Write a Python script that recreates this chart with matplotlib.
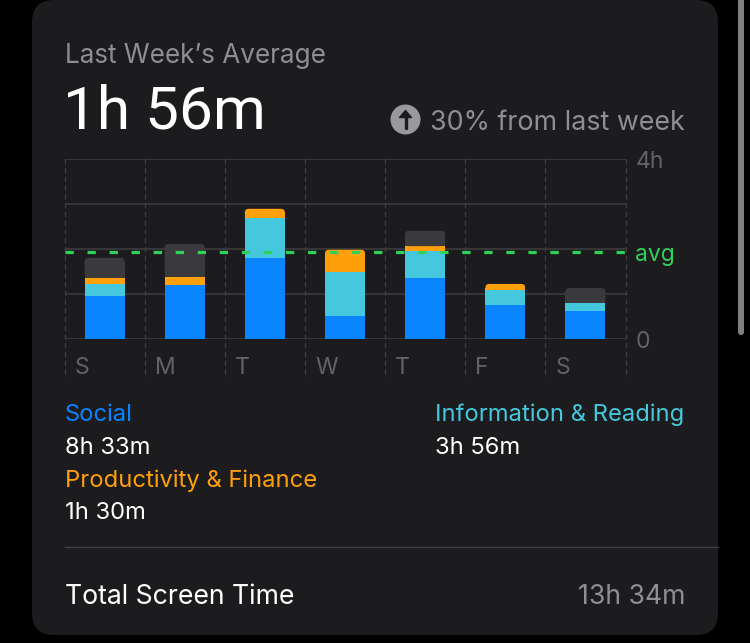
import matplotlib
matplotlib.use("Agg")
import matplotlib.pyplot as plt
from matplotlib.patches import FancyBboxPatch, Circle, Polygon
import numpy as np

plt.rcParams['font.family'] = ['Inter', 'DejaVu Sans']

# ---- data (hours) ----
days = ["S", "M", "T", "W", "T", "F", "S"]
social = [0.97, 1.21, 1.81, 0.52, 1.37, 0.77, 0.64]
info_reading = [0.26, 0.00, 0.89, 0.98, 0.59, 0.33, 0.17]
productivity = [0.14, 0.18, 0.20, 0.49, 0.11, 0.13, 0.00]
other = [0.44, 0.73, 0.00, 0.00, 0.34, 0.00, 0.33]
avg_hours = 116 / 60
y_ticks = [0, 4]
y_tick_labels = ["0", "4h"]

legend_names = ["Social", "Information & Reading", "Productivity & Finance"]
legend_values = ["8h 33m", "3h 56m", "1h 30m"]
title_text = "Last Week\u2019s Average"
headline = "1h 56m"
change_text = "30% from last week"
total_label = "Total Screen Time"
total_value = "13h 34m"

# ---- colors ----
C_BLUE = "#0A84FF"
C_CYAN = "#45C8DE"
C_ORANGE = "#FF9F0A"
C_OTHER = "#3A3A3C"
C_CARD = "#1C1C1E"
C_GRID = "#3F3F42"
C_GREEN = "#30D158"
C_GRAY = "#8E8E93"
C_AXLBL = "#636366"

W, H = 750, 643
fig = plt.figure(figsize=(7.5, 6.43), dpi=100)
fig.patch.set_facecolor("black")

# background axes in pixel coordinates
bg = fig.add_axes([0, 0, 1, 1])
bg.set_xlim(0, W)
bg.set_ylim(H, 0)
bg.axis("off")

card = FancyBboxPatch((32, 0), 686, 635, boxstyle="round,pad=0,rounding_size=22",
                      fc=C_CARD, ec="none")
bg.add_patch(card)
# scrollbar
bg.add_patch(FancyBboxPatch((738, -10), 6, 345, boxstyle="round,pad=0,rounding_size=3",
                            fc="#808080", ec="none"))

# header texts
bg.text(65, 63.3, title_text, color=C_GRAY, fontsize=18.8, va="baseline", ha="left")
bg.text(63, 128.5, headline, color="white", fontsize=43.5, va="baseline", ha="left",
        family=["Roboto", "DejaVu Sans"])
bg.add_patch(Circle((405.5, 119.5), 15, fc="#98989D", ec="none"))
bg.plot([405.5, 405.5], [128, 114], color=C_CARD, lw=2.4, solid_capstyle="round")
bg.add_patch(Polygon([[399.5, 117.5], [405.5, 110.5], [411.5, 117.5]], closed=True,
                     fc=C_CARD, ec=C_CARD, lw=1, joinstyle="round"))
bg.text(685, 130.5, change_text, color=C_GRAY, fontsize=19.3, va="baseline", ha="right")

# legend
fs_leg = 17.1
bg.text(65, 420.7, legend_names[0], color=C_BLUE, fontsize=fs_leg, va="baseline")
bg.text(65, 454, legend_values[0], color="white", fontsize=fs_leg, va="baseline")
bg.text(435, 420.7, legend_names[1], color=C_CYAN, fontsize=fs_leg, va="baseline")
bg.text(435, 454, legend_values[1], color="white", fontsize=fs_leg, va="baseline")
bg.text(65, 486.7, legend_names[2], color=C_ORANGE, fontsize=fs_leg, va="baseline")
bg.text(65, 519, legend_values[2], color="white", fontsize=fs_leg, va="baseline")

# separator + total
bg.plot([65, 718], [547, 547], color=C_GRID, lw=1)
bg.text(65, 603.5, total_label, color="white", fontsize=19.2, va="baseline")
bg.text(685, 603.5, total_value, color=C_GRAY, fontsize=19.2, va="baseline", ha="right")

# ---- chart axes ----
x0, x1 = 64.5, 625.5
y_top, y_bot = 159.3, 339.3
ax = fig.add_axes([x0 / W, (H - y_bot) / H, (x1 - x0) / W, (y_bot - y_top) / H])
ax.set_xlim(0, 7)
ax.set_ylim(0, 4)
ax.axis("off")
ax.patch.set_alpha(0)

px_per_h = (y_bot - y_top) / 4
px_per_x = (x1 - x0) / 7

# horizontal gridlines
for yv in [0, 1, 2, 3, 4]:
    ax.plot([0, 7], [yv, yv], color=C_GRID, lw=1.1, zorder=1)

# vertical dashed lines extending below
y_low = -(378 - y_bot) / px_per_h
for xv in range(8):
    ax.plot([xv, xv], [4, y_low], color=C_GRID, lw=0.9, ls=(0, (4, 3)),
            clip_on=False, zorder=1)

# stacked bars with rounded top
xs = np.arange(len(days)) + 0.5
bw = 0.5
r_px = 4.0
rx = r_px / px_per_x
ry = r_px / px_per_h
stacks = [(social, C_BLUE), (info_reading, C_CYAN), (productivity, C_ORANGE), (other, C_OTHER)]
arr = [np.array(v, dtype=float) for v, _ in stacks]
total = np.sum(arr, axis=0)
bottom = np.zeros(len(days))
for (vals, col), v in zip(stacks, arr):
    for i in range(len(days)):
        if v[i] <= 0:
            continue
        top = bottom[i] + v[i]
        is_top = np.isclose(top, total[i])
        if is_top:
            h_plain = max(v[i] - ry, 0)
            if h_plain > 0:
                ax.bar(xs[i], h_plain, bw, bottom=bottom[i], color=col, zorder=2, linewidth=0)
            box = FancyBboxPatch((xs[i] - bw / 2, bottom[i]), bw, v[i],
                                 boxstyle=f"round,pad=0,rounding_size={rx}",
                                 mutation_aspect=ry / rx, fc=col, ec="none", zorder=2)
            ax.add_patch(box)
        else:
            ax.bar(xs[i], v[i], bw, bottom=bottom[i], color=col, zorder=2, linewidth=0)
    bottom = bottom + v

# avg line
ax.plot([0, 7], [avg_hours, avg_hours], color=C_GREEN, lw=2.3, ls=(0, (2.6, 4.3)),
        zorder=4, solid_capstyle="butt", dash_capstyle="butt")

# y labels
lbl_x = 7 + 10 / px_per_x
for t, lbl in zip(y_ticks, y_tick_labels):
    off = (348.3 - y_bot) if t == 0 else (168.3 - y_top)
    ax.text(lbl_x, t - off / px_per_h, lbl, color=C_AXLBL, fontsize=16.5,
            va="baseline", ha="left", clip_on=False)
ax.text(lbl_x, avg_hours - (260.7 - (y_bot - avg_hours * px_per_h)) / px_per_h, "avg",
        color=C_GREEN, fontsize=16.5, va="baseline", ha="left", clip_on=False)

# day labels
for i, d in enumerate(days):
    ax.text(i + 10 / px_per_x, -(374 - y_bot) / px_per_h, d, color=C_AXLBL, fontsize=16.5,
            va="baseline", ha="left", clip_on=False)

fig.savefig("out.png", dpi=100, facecolor=fig.get_facecolor())
